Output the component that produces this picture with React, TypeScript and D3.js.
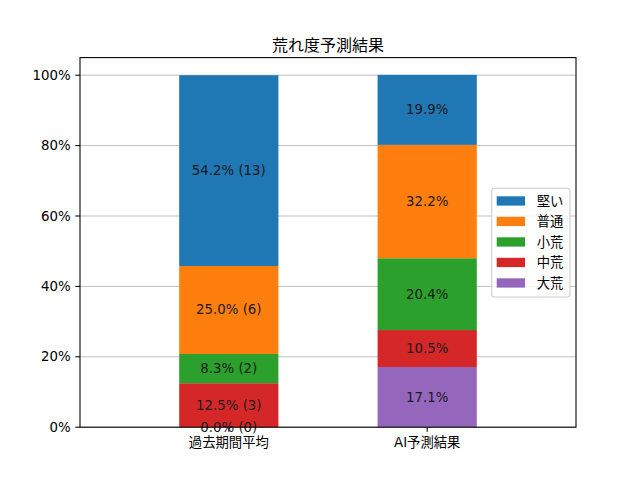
import React from "react";
import * as d3 from "d3";

const categories = ["過去期間平均", "AI予測結果"];
// bottom to top
const seriesKeys = ["大荒", "中荒", "小荒", "普通", "堅い"];
const pastValues = [0.0, 12.5, 8.3, 25.0, 54.2];
const pastCounts = [0, 3, 2, 6, 13];
const aiValues = [17.1, 10.5, 20.4, 32.2, 19.9];
const yTicks = [0, 20, 40, 60, 80, 100];
const legendOrder = ["堅い", "普通", "小荒", "中荒", "大荒"];

const colors: Record<string, string> = {
  "堅い": "#1f77b4",
  "普通": "#ff7f0e",
  "小荒": "#2ca02c",
  "中荒": "#d62728",
  "大荒": "#9467bd",
};

const W = 640;
const H = 480;
const margin = { left: 80, right: 64, top: 57.6, bottom: 52.8 };
const FONT = "'DejaVu Sans', 'Noto Sans CJK JP', sans-serif";

const App: React.FC = () => {
  const x = d3.scaleLinear().domain([-0.75, 1.75]).range([margin.left, W - margin.right]);
  const y = d3.scaleLinear().domain([0, 105]).range([H - margin.bottom, margin.top]);

  const rows = categories.map((c, i) => {
    const row: Record<string, number | string> = { category: c };
    seriesKeys.forEach((k, j) => {
      row[k] = i === 0 ? pastValues[j] : aiValues[j];
    });
    return row;
  });

  const stacked = d3.stack<Record<string, number | string>>().keys(seriesKeys)(rows as any);
  const barW = 0.5;

  const legendX = 491.7;
  const legendY = 188.3;
  const rowH = 20.5;

  return (
    <svg width={W} height={H} style={{ position: "absolute", left: 0, top: 0, background: "#fff" }} fontFamily={FONT}>
      {/* grid */}
      {yTicks.map((t) => (
        <line key={"g" + t} x1={margin.left} x2={W - margin.right} y1={y(t)} y2={y(t)} stroke="#b0b0b0" strokeWidth={0.8} />
      ))}

      {/* bars */}
      {stacked.map((layer) =>
        layer.map((seg, i) => (
          <rect
            key={layer.key + i}
            x={x(i - barW / 2)}
            width={x(barW) - x(0)}
            y={y(seg[1])}
            height={y(seg[0]) - y(seg[1])}
            fill={colors[layer.key]}
          />
        ))
      )}

      {/* labels */}
      {stacked.map((layer, j) =>
        layer.map((seg, i) => {
          const v = i === 0 ? pastValues[j] : aiValues[j];
          const txt = i === 0 ? `${v.toFixed(1)}% (${pastCounts[j]})` : `${v.toFixed(1)}%`;
          return (
            <text
              key={"t" + layer.key + i}
              x={x(i)}
              y={y((seg[0] + seg[1]) / 2)}
              textAnchor="middle"
              dominantBaseline="central"
              fontSize={13.33}
              fill="#1a1a1a"
            >
              {txt}
            </text>
          );
        })
      )}

      {/* spines */}
      <rect
        x={margin.left}
        y={margin.top}
        width={W - margin.left - margin.right}
        height={H - margin.top - margin.bottom}
        fill="none"
        stroke="#000"
        strokeWidth={1.07}
      />

      {/* y axis */}
      {yTicks.map((t) => (
        <g key={"y" + t} transform={`translate(${margin.left},${y(t)})`}>
          <line x1={-4.67} x2={0} stroke="#000" strokeWidth={1.07} />
          <text x={-9.3} textAnchor="end" dominantBaseline="central" fontSize={13.33} fill="#000">
            {t}%
          </text>
        </g>
      ))}

      {/* x axis */}
      {categories.map((c, i) => (
        <g key={"x" + c} transform={`translate(${x(i)},${H - margin.bottom})`}>
          <line y1={0} y2={4.67} stroke="#000" strokeWidth={1.07} />
          <text y={9.8} textAnchor="middle" dominantBaseline="hanging" fontSize={13.33} fill="#000">
            {c}
          </text>
        </g>
      ))}

      {/* title */}
      <text x={x(0.5)} y={margin.top - 7} textAnchor="middle" fontSize={16} fill="#000">
        荒れ度予測結果
      </text>

      {/* legend */}
      <rect
        x={legendX}
        y={legendY}
        width={78.3}
        height={108.7}
        rx={2.8}
        fill="#fff"
        fillOpacity={0.8}
        stroke="#cccccc"
        strokeWidth={1.07}
      />
      {legendOrder.map((k, i) => {
        const cy = 201 + i * rowH;
        return (
          <g key={"l" + k}>
            <rect x={496.7} y={cy - 4.7} width={28.3} height={9.3} fill={colors[k]} />
            <text x={536.7} y={cy} dominantBaseline="central" fontSize={13.33} fill="#000">
              {k}
            </text>
          </g>
        );
      })}
    </svg>
  );
};

export default App;
